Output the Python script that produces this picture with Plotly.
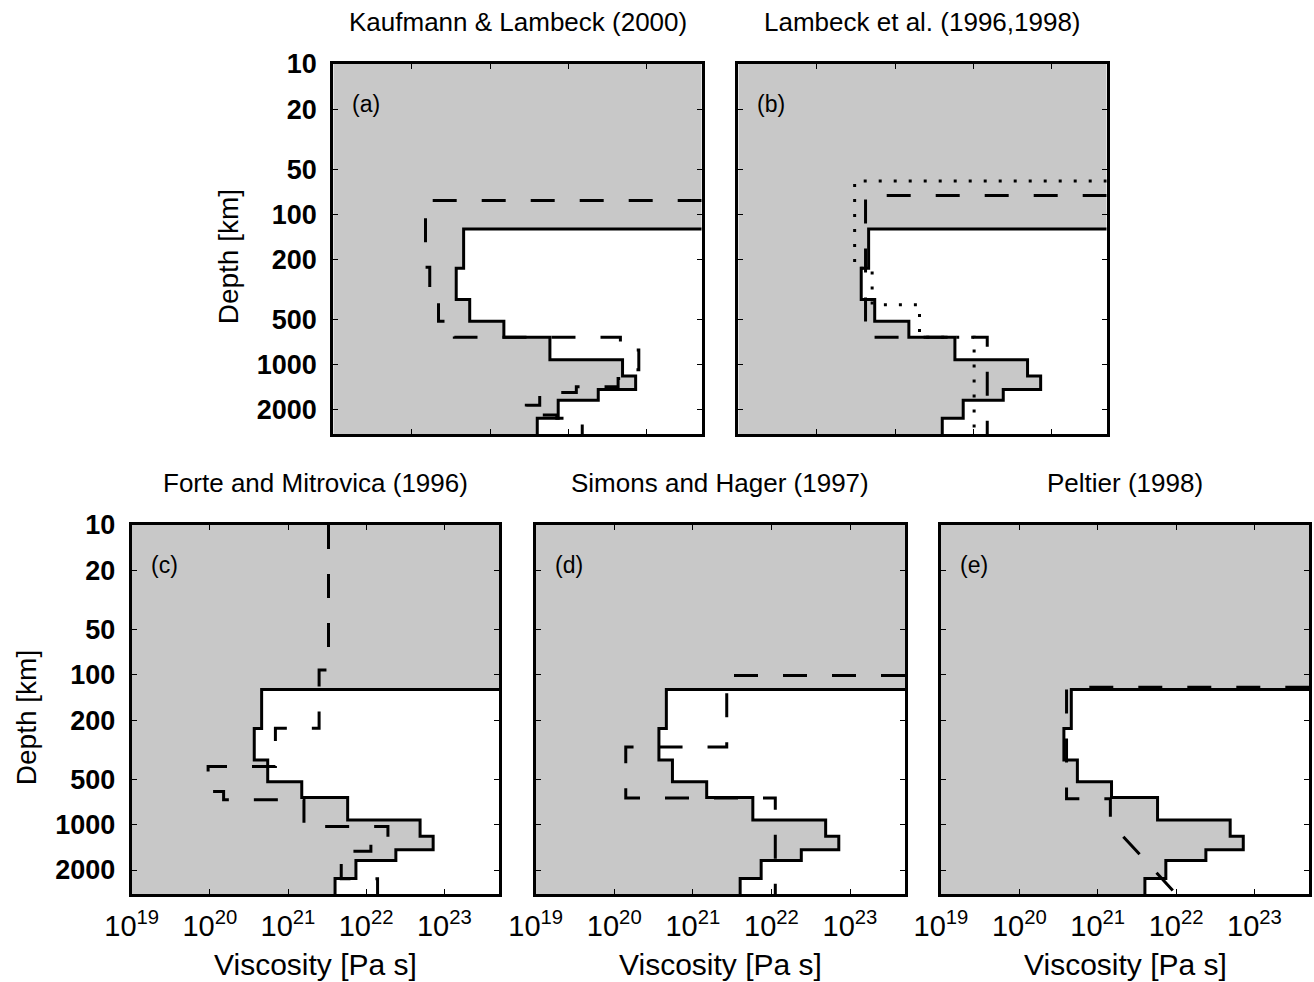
import math
import plotly.graph_objects as go

FIG_W, FIG_H = 1314, 982
X_MIN_LOG, X_MAX_LOG = 19.0, 23.7      # viscosity axis, log10(Pa s)
D_TOP, D_CMB = 10.0, 2891.0            # depth axis, km

# Reference viscosity profile (solid line, shaded to the left) shown in every panel
REF_DEPTH = [125, 228, 369, 515, 658, 928, 1190, 1465, 1725, 2275, 2891]
REF_VISC = [4.6e20, 3.7e20, 5.5e20, 1.5e21, 5.8e21, 4.9e22, 7.2e22, 2.4e22, 7.4e21, 4.0e21]

# (a) Kaufmann & Lambeck (2000)
KL_DEPTH = [81, 225, 362, 515, 658, 800, 1080, 1234, 1403, 1531, 1860, 2004, 2163, 2275, 2400, 2891]
KL_VISC = [1.5e20, 1.7e20, 2.2e20, 3.5e20, 4.6e22, 7.9e22, 6.6e22, 4.3e22, 1.26e22,
           4.3e21, 2.9e21, 4.4e21, 7.1e21, 1.15e22, 1.5e22]

# (b) Lambeck et al. (1996, 1998): dashed and dotted models
LB_DASH_DEPTH = [75, 658, 2891]
LB_DASH_VISC = [4.2e20, 1.5e22]
LB_DOT_DEPTH = [60, 228, 399, 658, 2891]
LB_DOT_VISC = [3.05e20, 5.1e20, 2.05e21, 1.02e22]

# (c) Forte and Mitrovica (1996)
FM_DEPTH = [10, 92.6, 227, 408, 600, 681, 1026, 1305, 1500, 2291, 2891]
FM_VISC = [3.3e21, 2.5e21, 6.9e20, 9.5e19, 1.5e20, 1.6e21, 1.9e22, 1.15e22, 4.8e21, 1.4e22]

# (d) Simons and Hager (1997)
SH_DEPTH = [101, 303, 663, 2891]
SH_VISC = [2.7e21, 1.4e20, 1.12e22]

# (e) Peltier (1998): layers down to 966 km, then a log-linear ramp to the CMB
PE_DEPTH = [121, 670, 966]
PE_VISC = [4.0e20, 1.45e21]
PE_CMB_VISC = 1.0e22

X_TICKS = [1e19, 1e20, 1e21, 1e22, 1e23]
X_TICKTEXT = ["10<sup>19</sup>", "10<sup>20</sup>", "10<sup>21</sup>", "10<sup>22</sup>", "10<sup>23</sup>"]
Y_TICKS = [10, 20, 50, 100, 200, 500, 1000, 2000]
Y_TICKTEXT = ["10", "20", "50", "100", "200", "500", "1000", "2000"]

TITLES = ["Kaufmann & Lambeck (2000)", "Lambeck et al. (1996,1998)",
          "Forte and Mitrovica (1996)", "Simons and Hager (1997)", "Peltier (1998)"]
LETTERS = ["(a)", "(b)", "(c)", "(d)", "(e)"]

FONT = "Liberation Sans, Arial, Helvetica, sans-serif"
GRAY = "#c8c8c8"
DASH = "24px,25px"
DOT = "3px,12px"

X_EDGE = 10 ** X_MAX_LOG
X_LEFT = 10 ** X_MIN_LOG

# panel boxes in pixels: (left, top, right, bottom)
BOXES = [
    (333.3, 64, 701.7, 434),
    (738.3, 64, 1106.7, 434),
    (131.7, 525, 499.0, 894),
    (535.7, 525, 905.0, 894),
    (941.0, 525, 1309.3, 894),
]


def staircase(depth, visc, lid=True):
    """Step profile; with lid=True a rigid lid runs from the right edge."""
    xs, ys = [], []
    if lid:
        xs.append(X_EDGE)
        ys.append(depth[0])
    for i, v in enumerate(visc):
        xs += [v, v]
        ys += [depth[i], depth[i + 1]]
    return xs, ys


def px2paper_x(px):
    return px / FIG_W


def px2paper_y(py):
    return 1 - py / FIG_H


fig = go.Figure()

ref_x, ref_y = staircase(REF_DEPTH, REF_VISC)
fill_x = [X_LEFT, X_EDGE] + ref_x + [X_LEFT]
fill_y = [D_TOP, D_TOP] + ref_y + [D_CMB]

pe_x, pe_y = staircase(PE_DEPTH, PE_VISC)
pe_x.append(PE_CMB_VISC)
pe_y.append(D_CMB)

extra = [
    [staircase(KL_DEPTH, KL_VISC) + (DASH,)],
    [staircase(LB_DASH_DEPTH, LB_DASH_VISC) + (DASH,), staircase(LB_DOT_DEPTH, LB_DOT_VISC) + (DOT,)],
    [staircase(FM_DEPTH, FM_VISC, lid=False) + (DASH,)],
    [staircase(SH_DEPTH, SH_VISC) + (DASH,)],
    [(pe_x, pe_y, DASH)],
]

for k in range(5):
    n = "" if k == 0 else str(k + 1)
    xa, ya = "x" + n, "y" + n
    fig.add_trace(go.Scatter(x=fill_x, y=fill_y, xaxis=xa, yaxis=ya, mode="lines",
                             fill="toself", fillcolor=GRAY, line=dict(width=0),
                             hoverinfo="skip", showlegend=False))
    fig.add_trace(go.Scatter(x=ref_x, y=ref_y, xaxis=xa, yaxis=ya, mode="lines",
                             line=dict(color="black", width=3), showlegend=False))
    for ex, ey, dash in extra[k]:
        fig.add_trace(go.Scatter(x=ex, y=ey, xaxis=xa, yaxis=ya, mode="lines",
                                 line=dict(color="black", width=3, dash=dash),
                                 showlegend=False))

annotations = []
for k, (l, t, r, b) in enumerate(BOXES):
    n = "" if k == 0 else str(k + 1)
    bottom_row = k >= 2
    left_col = k in (0, 2)
    fig.layout["xaxis" + n] = dict(
        type="log", range=[X_MIN_LOG, X_MAX_LOG], automargin=False,
        domain=[px2paper_x(l), px2paper_x(r)], anchor="y" + n,
        tickvals=X_TICKS, ticktext=X_TICKTEXT, showticklabels=bottom_row,
        ticks="inside", ticklen=5, tickwidth=1, tickcolor="black",
        showline=True, linewidth=3, linecolor="black", mirror="ticks",
        showgrid=False, zeroline=False,
        tickfont=dict(family=FONT, size=29, color="black"),
        ticklabelstandoff=4,
    )
    fig.layout["yaxis" + n] = dict(
        type="log", range=[math.log10(D_CMB), math.log10(D_TOP)], automargin=False,
        domain=[px2paper_y(b), px2paper_y(t)], anchor="x" + n,
        tickvals=Y_TICKS, ticktext=Y_TICKTEXT, showticklabels=left_col,
        ticks="inside", ticklen=5, tickwidth=1, tickcolor="black",
        showline=True, linewidth=3, linecolor="black", mirror="ticks",
        showgrid=False, zeroline=False,
        tickfont=dict(family=FONT, size=27, color="black", weight="bold"),
        ticklabelstandoff=8,
    )
    cx = (l + r) / 2
    annotations.append(dict(text=TITLES[k], x=px2paper_x(cx), y=px2paper_y(t - 42),
                            xref="paper", yref="paper", showarrow=False,
                            xanchor="center", yanchor="middle",
                            font=dict(family=FONT, size=26, color="black")))
    annotations.append(dict(text=LETTERS[k], x=px2paper_x(l + 17), y=px2paper_y(t + 40),
                            xref="paper", yref="paper", showarrow=False,
                            xanchor="left", yanchor="middle",
                            font=dict(family=FONT, size=23, color="black")))
    if left_col:
        annotations.append(dict(text="Depth [km]", x=px2paper_x(l - 105),
                                y=px2paper_y((t + b) / 2 + 8),
                                xref="paper", yref="paper", showarrow=False,
                                textangle=-90, xanchor="center", yanchor="middle",
                                font=dict(family=FONT, size=28, color="black")))
    if bottom_row:
        annotations.append(dict(text="Viscosity [Pa s]", x=px2paper_x(cx), y=px2paper_y(964),
                                xref="paper", yref="paper", showarrow=False,
                                xanchor="center", yanchor="middle",
                                font=dict(family=FONT, size=30, color="black")))

fig.update_layout(
    width=FIG_W, height=FIG_H,
    margin=dict(l=0, r=0, t=0, b=0, autoexpand=False),
    paper_bgcolor="white", plot_bgcolor="white",
    annotations=annotations,
    showlegend=False,
)

fig.write_html("out.html")
